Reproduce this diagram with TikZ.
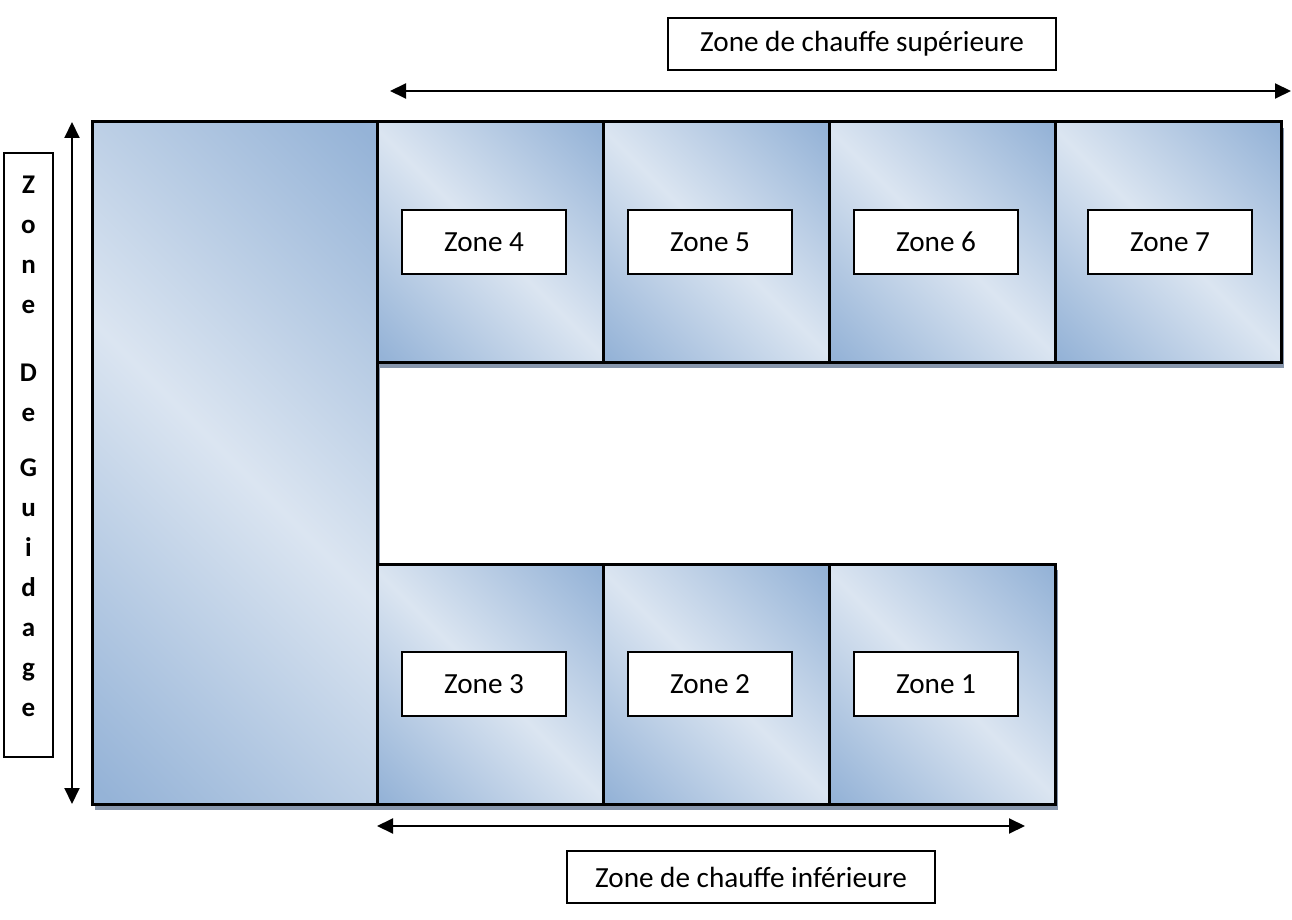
\documentclass[tikz,border=0pt]{standalone}
\usepackage{fontspec}
\setmainfont{Carlito}
\usetikzlibrary{positioning,arrows.meta,shadows}
\definecolor{zonedark}{RGB}{149,179,215}
\definecolor{zonelight}{RGB}{219,229,241}
\definecolor{zoneshadow}{RGB}{135,150,172}
\pgfdeclarehorizontalshading{zoneshade}{100bp}{color(0bp)=(zonedark); color(16bp)=(zonedark); color(50bp)=(zonelight); color(84bp)=(zonedark); color(100bp)=(zonedark)}
\begin{document}
\begin{tikzpicture}[x=0.5pt, y=-0.5pt,
  every node/.style = {font=\fontsize{14.6pt}{17pt}\selectfont, outer sep=0pt},
  zone/.style = {draw, line width=1.5pt,
    shading=zoneshade, shading angle=45,
    minimum width=113pt, minimum height=120pt,
    drop shadow={shadow xshift=1.5pt, shadow yshift=-3pt,
      fill=zoneshadow, opacity=1}},
  zonename/.style = {draw, fill=white, line width=0.75pt,
    text height=9.5pt, text depth=0pt,
    minimum width=82pt, minimum height=32pt, xshift=-3pt},
  captionbox/.style = {draw, fill=white, line width=0.6pt,
    minimum height=26pt},
  dimarrow/.style = {line width=1pt,
    {Triangle[length=8pt,width=7.5pt]}-{Triangle[length=8pt,width=7.5pt]}}
  ]
  \useasboundingbox (0,0) rectangle (1292,920);
  % guide zone
  \node[zone, minimum width=142.5pt, minimum height=341pt,
    anchor=north west] (guide) at (92,122) {};
  % upper row
  \node[zone, anchor=north west] (z4) at (guide.north east) {};
  \node[zone, right=0pt of z4] (z5) {};
  \node[zone, right=0pt of z5] (z6) {};
  \node[zone, right=0pt of z6] (z7) {};
  % lower row
  \node[zone, anchor=south west] (z3) at (guide.south east) {};
  \node[zone, right=0pt of z3] (z2) {};
  \node[zone, right=0pt of z2] (z1) {};
  % zone names
  \node[zonename] (n4) at (z4) {Zone 4};
  \node[zonename] (n5) at (z5) {Zone 5};
  \node[zonename] (n6) at (z6) {Zone 6};
  \node[zonename, xshift=4pt] (n7) at (z7) {Zone 7};
  \node[zonename] (n3) at (z3) {Zone 3};
  \node[zonename] (n2) at (z2) {Zone 2};
  \node[zonename] (n1) at (z1) {Zone 1};
  % captions
  \node[captionbox, minimum width=194pt] (upper) at (862,44)
    {Zone de chauffe supérieure};
  \node[captionbox, minimum width=184pt] (lower) at (751,877)
    {Zone de chauffe inférieure};
  \node[captionbox, minimum width=24.5pt, minimum height=302pt]
    (side) at (28.5,455) {};
  \node[font=\fontsize{13.5pt}{20pt}\selectfont\bfseries, align=center]
    (sidetext) at (28.5,446)
    {Z\\o\\n\\e\\[14pt]D\\e\\[7.5pt]G\\u\\i\\d\\a\\g\\e};
  % arrows
  \draw[dimarrow] ([xshift=6.5pt,yshift=15.5pt]z4.north west)
    -- ([xshift=5pt,yshift=15.5pt]z7.north east);
  \draw[dimarrow] ([xshift=-10pt]guide.north west)
    -- ([xshift=-10pt]guide.south west);
  \draw[dimarrow] ([yshift=-11pt]z3.south west)
    -- ([xshift=-15pt,yshift=-11pt]z1.south east);
\end{tikzpicture}
\end{document}
